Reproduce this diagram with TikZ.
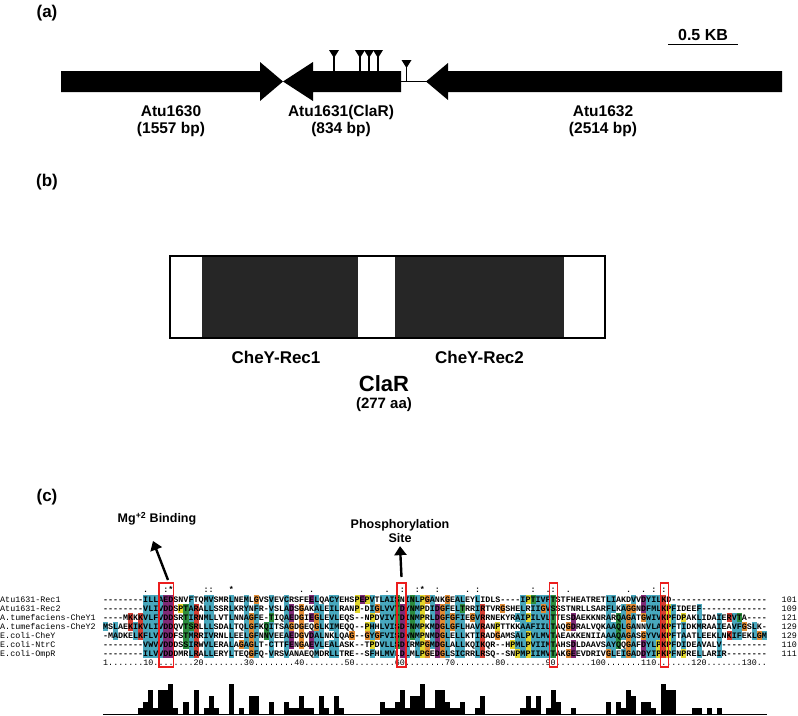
\documentclass[tikz,border=0pt]{standalone}
\usepackage{fontspec}
\setmainfont{Liberation Sans}
\newfontfamily\seqfont{Liberation Mono}
\usepackage{xstring}
\usetikzlibrary{arrows.meta}

\definecolor{cxblue}{RGB}{72,168,190}
\definecolor{cxred}{RGB}{212,62,50}
\definecolor{cxpurple}{RGB}{128,42,118}
\definecolor{cxgreen}{RGB}{44,140,62}
\definecolor{cxorange}{RGB}{226,140,52}
\definecolor{cxyellow}{RGB}{226,214,44}
\definecolor{domainfill}{RGB}{38,38,38}
\definecolor{siteline}{RGB}{235,30,30}

% alignment grid (1 unit = 1px)
\newcommand{\xz}{103}
\newcommand{\cw}{5.03}
\newcommand{\yz}{599.5}
\newcommand{\dy}{9}

% n dashes
\newcommand{\gapx}[1]{\ifnum#1>0 -\expandafter\gapx\expandafter{\the\numexpr#1-1\relax}\fi}

% the seven aligned rows
\newcommand{\alnrow}[1]{\ifcase#1\relax
  \or\gapx{8}ILLAEDSNVFTQMVSMRLNEMLGVSVEVCRSFEELQACYEHSPEPVTLAISNINLPGANKGEALEYLIDLS\gapx{4}IPTIVFTSTFHEATRETLIAKDVVDYILKD\gapx{19}%
  \or\gapx{8}VLIVDDSPTARALLSSRLKRYNFR\gapx{1}VSLADSGAKALEILRANP\gapx{1}DIGLVVTDYNMPDIDGFELTRRIRTVRGSHELRIIGVSSSTNRLLSARFLKAGGNDFMLKPFIDEEF\gapx{13}%
  \or\gapx{4}MKKKVLFVDDSRTIRNMLLVTLNNAGFE\gapx{1}TIQAEDGIEGLEVLEQS\gapx{2}NPDVIVTDINMPRLDGFGFIEGVRRNEKYRAIPILVLTTESDAEKKNRARQAGATGWIVKPFDPAKLIDAIERVTA\gapx{4}%
  \or MSLAEKIKVLIVDDQVTSRLLLSDALTQLGFKQITSAGDGEQGLKIMEQQ\gapx{2}PHHLVISDFNMPKMDGLGFLHAVRANPTTKKAAFIILTAQGDRALVQKAAQLGANNVLAKPFTIDKMRAAIEAVFGSLK\gapx{1}%
  \or\gapx{1}MADKELKFLVVDDFSTMRRIVRNLLEELGFNNVEEAEDGVDALNKLQAG\gapx{2}GYGFVISDWNMPNMDGLELLKTIRADGAMSALPVLMVTAEAKKENIIAAAQAGASGYVVKPFTAATLEEKLNKIFEKLGM%
  \or\gapx{8}VWVVDDDSSIRWVLERALAGAGLT\gapx{1}CTTFENGAEVLEALASK\gapx{2}TPDVLLSDIRMPGMDGLALLKQIKQR\gapx{2}HPMLPVIIMTAHSDLDAAVSAYQQGAFDYLPKPFDIDEAVALV\gapx{9}%
  \or\gapx{8}ILVVDDDMRLRALLERYLTEQGFQ\gapx{1}VRSVANAEQMDRLLTRE\gapx{2}SFHLMVLDLMLPGEDGLSICRRLRSQ\gapx{2}SNPMPIIMVTAKGEEVDRIVGLEIGADDYIPKPFNPRELLARIR\gapx{8}%
  \fi}

% residue classes
\foreach \l in {A,C,I,L,M,F,W,V} {\global\expandafter\def\csname cls-\l\endcsname{h}}
\foreach \l in {H,Y} {\global\expandafter\def\csname cls-\l\endcsname{y}}
\foreach \l in {K,R} {\global\expandafter\def\csname cls-\l\endcsname{k}}
\foreach \l in {D,E} {\global\expandafter\def\csname cls-\l\endcsname{d}}
\foreach \l in {S,T} {\global\expandafter\def\csname cls-\l\endcsname{s}}
\foreach \l in {N,Q} {\global\expandafter\def\csname cls-\l\endcsname{n}}
\global\expandafter\def\csname cls-G\endcsname{g}
\global\expandafter\def\csname cls-P\endcsname{p}
\global\expandafter\def\csname cls--\endcsname{x}
\def\gapchar{-}

\newcount\nres \newcount\nhyd \newcount\nkr \newcount\nde \newcount\nst \newcount\nnq
\newcount\nbest \newcount\nsame

\begin{document}
\begin{tikzpicture}[x=1pt, y=-1pt,
    panel/.style={font=\fontsize{17}{19}\selectfont\bfseries},
    genetext/.style={font=\fontsize{15.5}{17.5}\selectfont\bfseries, align=center},
    domaintext/.style={font=\fontsize{17}{19}\selectfont\bfseries},
    sitetext/.style={font=\fontsize{12.5}{14}\selectfont\bfseries, align=center},
    res/.style={font=\seqfont\fontsize{8.38}{8.38}\selectfont\bfseries, inner sep=0pt, anchor=base},
    seqname/.style={font=\seqfont\fontsize{8.38}{8.38}\selectfont, inner sep=0pt, anchor=base west},
    seqlen/.style={font=\seqfont\fontsize{8.38}{8.38}\selectfont, inner sep=0pt, anchor=base east},
    sitebox/.style={draw=siteline, line width=1.2pt},
    pointer/.style={line width=2.4pt, -{Triangle[length=9pt, width=12pt]}}
]
\useasboundingbox (0,0) rectangle (798,715);

% ---------- (a) gene map
\node[panel] (tag-a) at (47,13) {(a)};
\fill (61,71) -- (260,71) -- (260,62) -- (283,81.5) -- (260,101) -- (260,92) -- (61,92) -- cycle;
\fill (283,81.5) -- (313,62) -- (313,71) -- (401,71) -- (401,92) -- (313,92) -- (313,101) -- cycle;
\fill (426,81.5) -- (448,63) -- (448,71) -- (782,71) -- (782,92) -- (448,92) -- (448,100) -- cycle;
\draw[line width=1.3pt] (400,81.5) -- (427,81.5);
% terminators
\foreach \x in {334,360,369,378} {
  \draw[line width=1.2pt] (\x,71) -- (\x,56);
  \fill (\x-5,50) -- (\x+5,50) -- (\x,58) -- cycle;
}
\draw[line width=1.2pt] (406.5,81.5) -- (406.5,66);
\fill (401.5,60) -- (411.5,60) -- (406.5,68) -- cycle;

\node[genetext] (gene-1630) at (171,121) {Atu1630\\(1557 bp)};
\node[genetext] (gene-1631) at (341,121) {Atu1631(ClaR)\\(834 bp)};
\node[genetext] (gene-1632) at (603,121) {Atu1632\\(2514 bp)};

\draw[line width=1.3pt] (668,44.5) -- (738,44.5);
\node[font=\fontsize{16}{18}\selectfont\bfseries] (scale) at (703,35) {0.5 KB};

% ---------- (b) ClaR domains
\node[panel] (tag-b) at (47,182) {(b)};
\fill[domainfill] (201.7,256) rectangle (358.3,338);
\fill[domainfill] (395,256) rectangle (564,338);
\draw[line width=1.6pt] (170,256) rectangle (605,338);
\node[domaintext] (rec1) at (276,357) {CheY-Rec1};
\node[domaintext] (rec2) at (479.5,357) {CheY-Rec2};
\node[font=\fontsize{22}{24}\selectfont\bfseries] (clar) at (384,384) {ClaR};
\node[font=\fontsize{15}{17}\selectfont\bfseries] (clar-len) at (384,405) {(277 aa)};

% ---------- (c) alignment
\node[panel] (tag-c) at (47,497) {(c)};

% residues into macros
\foreach \row in {1,...,7} {
  \foreach \col in {1,...,132} {
    \StrChar{\alnrow{\row}}{\col}[\ch]%
    \global\expandafter\let\csname res-\row-\col\endcsname\ch
  }
}

\foreach \col in {1,...,132} {
  \global\nres=0 \global\nhyd=0 \global\nkr=0 \global\nde=0 \global\nst=0 \global\nnq=0 \global\nbest=0
  \foreach \row in {1,...,7} {
    \edef\cl{\csname cls-\csname res-\row-\col\endcsname\endcsname}
    \if x\cl\else\global\advance\nres by 1 \fi
    \if h\cl\global\advance\nhyd by 1 \fi
    \if y\cl\global\advance\nhyd by 1 \fi
    \if p\cl\global\advance\nhyd by 1 \fi
    \if k\cl\global\advance\nkr by 1 \fi
    \if d\cl\global\advance\nde by 1 \fi
    \if s\cl\global\advance\nst by 1 \fi
    \if n\cl\global\advance\nnq by 1 \fi
    % identity count for the histogram
    \edef\ca{\csname res-\row-\col\endcsname}
    \global\nsame=0
    \foreach \oth in {1,...,7} {
      \edef\cb{\csname res-\oth-\col\endcsname}
      \ifx\ca\cb\global\advance\nsame by 1 \fi
    }
    \ifx\ca\gapchar\else\ifnum\nsame>\nbest\global\nbest=\nsame\fi\fi
  }
  % column thresholds (gaps left out)
  \ifnum\numexpr10*\nhyd\relax>\numexpr6*\nres\relax\def\okhyd{1}\else\def\okhyd{0}\fi
  \ifnum\numexpr10*\nkr\relax>\numexpr6*\nres\relax\def\okkr{1}\else\def\okkr{0}\fi
  \ifnum\numexpr2*\nde\relax>\nres\def\okde{1}\else\def\okde{0}\fi
  \ifnum\numexpr2*\nst\relax>\nres\def\okst{1}\else\def\okst{0}\fi
  \ifnum\numexpr2*\nnq\relax>\nres\def\oknq{1}\else\def\oknq{0}\fi
  % histogram bar
  \ifnum\nbest>2
    \fill ({\xz+(\col-1)*\cw},714) rectangle ({\xz+\col*\cw},{714-(\the\nbest-2)*6});
  \fi
  % coloured cells and letters
  \foreach \row in {1,...,7} {
    \edef\ch{\csname res-\row-\col\endcsname}
    \edef\cl{\csname cls-\ch\endcsname}
    \def\cellcol{}
    \if g\cl\def\cellcol{cxorange}\fi
    \if p\cl\def\cellcol{cxyellow}\fi
    \if h\cl\if1\okhyd\def\cellcol{cxblue}\fi\fi
    \if y\cl\if1\okhyd\def\cellcol{cxblue}\fi\fi
    \if k\cl\if1\okkr\def\cellcol{cxred}\fi\fi
    \if d\cl\if1\okde\def\cellcol{cxpurple}\fi\fi
    \if s\cl\if1\okst\def\cellcol{cxgreen}\fi\if1\okhyd\def\cellcol{cxgreen}\fi\fi
    \if n\cl\if1\oknq\def\cellcol{cxgreen}\fi\fi
    \ifx\cellcol\empty\else
      \fill[\cellcol] ({\xz+(\col-1)*\cw},{\yz+(\row-1.5)*\dy}) rectangle ({\xz+\col*\cw},{\yz+(\row-0.5)*\dy});
    \fi
    \node[res] (res-\row-\col) at ({\xz+(\col-0.5)*\cw},{\yz+(\row-1)*\dy+2.8}) {\ch};
  }
}
\draw (\xz,714.5) -- (767,714.5);

% names and lengths
\foreach \row/\gname/\glen in {1/Atu1631-Rec1/101, 2/Atu1631-Rec2/109, 3/A.tumefaciens-CheY1/121,
    4/A.tumefaciens-CheY2/129, 5/E.coli-CheY/129, 6/E.coli-NtrC/110, 7/E.coli-OmpR/111} {
  \node[seqname] (name-\row) at (0,{\yz+(\row-1)*\dy+2.8}) {\gname};
  \node[seqlen] (len-\row) at (797,{\yz+(\row-1)*\dy+2.8}) {\glen};
}
\node[seqname] (ruler) at (\xz,{\yz+7*\dy+2.8}) {1.......10........20........30........40........50........60........70........80........90.......100.......110.......120.......130..};

% conservation marks
\foreach \col/\mk in {9/., 13/:, 14/*, 21/:, 22/:, 26/*, 40/., 42/., 57/., 59/:, 60/:, 63/:, 64/*,
    67/:, 73/., 75/:, 86/:, 89/., 90/:, 93/., 105/., 108/., 110/:, 112/:} {
  \node[res] (mark-\col) at ({\xz+(\col-0.5)*\cw},592) {\mk};
}

% sites
\draw[sitebox] (159,583) rectangle (173.5,667);
\draw[sitebox] (397,583) rectangle (406,667);
\draw[sitebox] (549.5,583) rectangle (557.5,667);
\draw[sitebox] (660.5,583) rectangle (668.5,667);

\node[sitetext] (mg) at (157,519) {Mg\textsuperscript{+2} Binding};
\node[sitetext] (phos) at (400,531) {Phosphorylation\\Site};
\coordinate (mg-foot) at (168,580);
\coordinate (mg-tip) at (153,541);
\coordinate (phos-foot) at (401.5,577);
\draw[pointer] (mg-foot) -- (mg-tip);
\draw[pointer] (phos-foot) -- (phos.south);
\end{tikzpicture}
\end{document}
